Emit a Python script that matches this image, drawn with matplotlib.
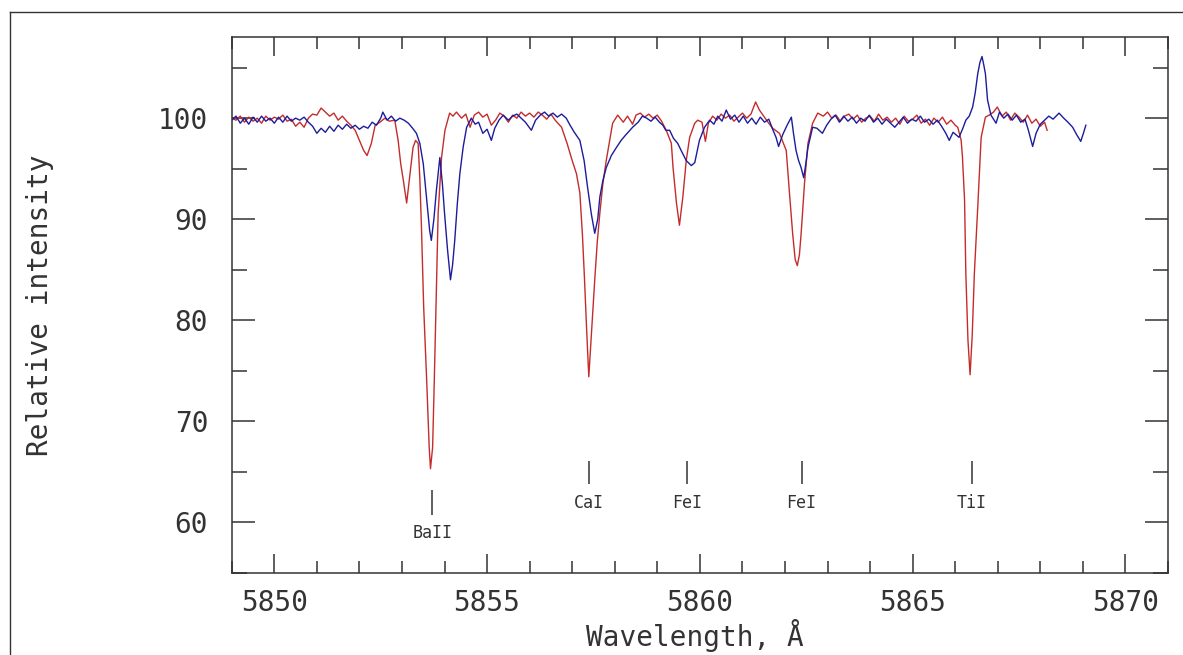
import numpy as np
import matplotlib
matplotlib.use("Agg")
import matplotlib.pyplot as plt
from matplotlib.lines import Line2D
from matplotlib.ticker import MultipleLocator

# red spectrum (wavelength in A, relative intensity)
red_wl = [5849.00, 5849.10, 5849.20, 5849.30, 5849.40, 5849.50, 5849.60, 5849.70, 5849.80, 5849.90,
          5850.00, 5850.10, 5850.20, 5850.30, 5850.40, 5850.50, 5850.60, 5850.70, 5850.80, 5850.90,
          5851.00, 5851.10, 5851.20, 5851.30, 5851.40, 5851.50, 5851.60, 5851.70, 5851.80, 5851.90,
          5852.00, 5852.10, 5852.18, 5852.28, 5852.37, 5852.48, 5852.60, 5852.70, 5852.83, 5852.91,
          5852.97, 5853.03, 5853.11, 5853.19, 5853.26, 5853.32, 5853.38, 5853.42, 5853.46, 5853.51,
          5853.58, 5853.64, 5853.67, 5853.72, 5853.76, 5853.80, 5853.85, 5853.93, 5854.01, 5854.12,
          5854.20, 5854.28, 5854.40, 5854.50, 5854.60, 5854.70, 5854.80, 5854.90, 5855.00, 5855.10,
          5855.20, 5855.30, 5855.40, 5855.50, 5855.60, 5855.70, 5855.80, 5855.90, 5856.00, 5856.10,
          5856.20, 5856.30, 5856.40, 5856.50, 5856.60, 5856.75, 5856.88, 5857.00, 5857.10, 5857.18,
          5857.24, 5857.29, 5857.34, 5857.39, 5857.45, 5857.53, 5857.59, 5857.65, 5857.72, 5857.80,
          5857.88, 5857.95, 5858.07, 5858.20, 5858.30, 5858.42, 5858.50, 5858.60, 5858.70, 5858.80,
          5858.90, 5859.00, 5859.10, 5859.21, 5859.33, 5859.37, 5859.45, 5859.52, 5859.60, 5859.68,
          5859.76, 5859.88, 5859.95, 5860.05, 5860.13, 5860.20, 5860.30, 5860.40, 5860.50, 5860.60,
          5860.70, 5860.80, 5860.90, 5861.00, 5861.10, 5861.20, 5861.31, 5861.40, 5861.50, 5861.60,
          5861.71, 5861.87, 5862.03, 5862.10, 5862.18, 5862.24, 5862.29, 5862.34, 5862.38, 5862.46,
          5862.54, 5862.65, 5862.77, 5862.90, 5863.00, 5863.10, 5863.20, 5863.30, 5863.40, 5863.50,
          5863.60, 5863.70, 5863.80, 5863.90, 5864.00, 5864.10, 5864.20, 5864.30, 5864.40, 5864.50,
          5864.60, 5864.70, 5864.80, 5864.90, 5865.00, 5865.10, 5865.20, 5865.30, 5865.40, 5865.50,
          5865.60, 5865.70, 5865.80, 5865.90, 5866.00, 5866.06, 5866.14, 5866.17, 5866.22, 5866.25,
          5866.30, 5866.35, 5866.40, 5866.45, 5866.53, 5866.61, 5866.71, 5866.80, 5866.90, 5866.99,
          5867.10, 5867.20, 5867.30, 5867.40, 5867.50, 5867.60, 5867.70, 5867.80, 5867.90, 5868.00,
          5868.10, 5868.16]
red_int = [100.0, 99.8, 100.2, 99.6, 100.1, 99.7, 100.0, 99.5, 100.2, 99.8,
           100.1, 99.9, 100.3, 99.7, 99.9, 99.2, 99.6, 99.1, 100.0, 100.4,
           100.3, 101.0, 100.6, 100.2, 100.5, 99.8, 100.2, 99.7, 99.3, 98.8,
           97.8, 96.8, 96.3, 97.5, 99.3, 99.6, 100.0, 99.7, 99.8, 97.8,
           95.5, 93.9, 91.6, 94.5, 97.1, 97.8, 97.5, 94.0, 88.9, 81.3,
           74.1, 67.4, 65.3, 67.4, 74.1, 81.3, 90.6, 96.1, 98.8, 100.5,
           100.2, 100.6, 100.0, 100.4, 99.1, 100.3, 100.6, 100.1, 100.4, 99.3,
           99.8, 100.5, 100.2, 99.6, 100.3, 100.0, 100.6, 100.2, 100.5, 100.1,
           100.6, 100.3, 99.9, 100.4, 99.8, 99.1, 97.5, 95.8, 94.5, 92.6,
           88.5, 84.0, 79.0, 74.4, 78.5, 84.0, 87.8, 90.6, 93.5, 95.8,
           97.8, 99.5, 100.3, 99.6, 100.2, 99.4, 100.3, 100.5, 100.1, 100.4,
           100.0, 100.3, 99.7, 98.8, 97.5, 95.1, 91.6, 89.4, 92.2, 95.8,
           98.1, 99.5, 99.8, 99.6, 97.7, 99.5, 100.2, 99.8, 100.4, 100.0,
           100.3, 99.7, 100.1, 100.5, 100.0, 100.4, 101.6, 100.8, 100.2, 99.6,
           99.0, 98.5, 96.8, 92.9, 88.6, 86.0, 85.4, 86.5, 88.6, 93.6,
           97.5, 99.5, 100.5, 100.2, 100.6, 100.0, 100.3, 99.7, 100.2, 100.4,
           99.9, 100.3, 99.6, 100.0, 100.2, 99.7, 100.4, 99.8, 100.1, 99.6,
           100.0, 99.4, 100.2, 99.7, 99.9, 100.3, 99.5, 99.9, 99.3, 100.0,
           99.6, 100.1, 99.4, 99.8, 99.3, 99.1, 97.8, 96.2, 91.9, 84.6,
           78.0, 74.6, 78.5, 84.6, 91.2, 98.1, 100.1, 100.3, 100.6, 101.1,
           100.2, 100.6, 99.8, 100.5, 100.1, 99.6, 100.3, 99.5, 99.9, 99.2,
           99.6, 98.8]

# blue spectrum
blue_wl = [5849.00, 5849.10, 5849.20, 5849.30, 5849.40, 5849.50, 5849.60, 5849.70, 5849.80, 5849.90,
           5850.00, 5850.10, 5850.20, 5850.30, 5850.40, 5850.50, 5850.60, 5850.70, 5850.80, 5850.90,
           5851.00, 5851.10, 5851.20, 5851.30, 5851.40, 5851.50, 5851.60, 5851.70, 5851.80, 5851.90,
           5852.00, 5852.10, 5852.20, 5852.30, 5852.40, 5852.50, 5852.55, 5852.65, 5852.75, 5852.85,
           5852.95, 5853.05, 5853.15, 5853.25, 5853.34, 5853.42, 5853.50, 5853.58, 5853.65, 5853.69,
           5853.75, 5853.81, 5853.89, 5853.95, 5854.00, 5854.07, 5854.14, 5854.19, 5854.24, 5854.30,
           5854.36, 5854.44, 5854.52, 5854.63, 5854.72, 5854.80, 5854.90, 5855.00, 5855.10, 5855.18,
           5855.28, 5855.38, 5855.50, 5855.60, 5855.70, 5855.80, 5855.90, 5856.04, 5856.14, 5856.25,
           5856.35, 5856.45, 5856.55, 5856.65, 5856.75, 5856.86, 5856.95, 5857.05, 5857.18, 5857.28,
           5857.36, 5857.45, 5857.53, 5857.60, 5857.65, 5857.72, 5857.80, 5857.92, 5858.04, 5858.15,
           5858.25, 5858.42, 5858.55, 5858.65, 5858.75, 5858.85, 5858.95, 5859.05, 5859.13, 5859.20,
           5859.29, 5859.38, 5859.48, 5859.56, 5859.68, 5859.80, 5859.88, 5859.99, 5860.11, 5860.23,
           5860.33, 5860.42, 5860.52, 5860.62, 5860.72, 5860.82, 5860.92, 5861.02, 5861.12, 5861.22,
           5861.32, 5861.42, 5861.52, 5861.62, 5861.72, 5861.79, 5861.85, 5861.95, 5862.05, 5862.15,
           5862.20, 5862.26, 5862.32, 5862.38, 5862.44, 5862.49, 5862.54, 5862.65, 5862.75, 5862.88,
           5862.98, 5863.08, 5863.18, 5863.28, 5863.38, 5863.48, 5863.58, 5863.68, 5863.78, 5863.88,
           5863.98, 5864.08, 5864.18, 5864.28, 5864.38, 5864.48, 5864.58, 5864.68, 5864.78, 5864.88,
           5864.98, 5865.08, 5865.18, 5865.28, 5865.38, 5865.48, 5865.58, 5865.68, 5865.78, 5865.86,
           5865.95, 5866.09, 5866.18, 5866.25, 5866.33, 5866.41, 5866.47, 5866.53, 5866.58, 5866.63,
           5866.67, 5866.71, 5866.76, 5866.84, 5866.96, 5867.04, 5867.14, 5867.24, 5867.34, 5867.44,
           5867.54, 5867.64, 5867.72, 5867.82, 5867.90, 5868.00, 5868.10, 5868.20, 5868.30, 5868.44,
           5868.55, 5868.65, 5868.76, 5868.85, 5868.95, 5869.02, 5869.07]
blue_int = [99.8, 100.2, 99.5, 100.0, 99.4, 100.1, 99.6, 100.2, 99.7, 100.0,
            99.5, 100.1, 99.6, 100.2, 99.7, 100.0, 99.8, 100.1, 99.6, 99.2,
            98.5, 99.0, 98.6, 99.2, 98.7, 99.3, 98.9, 99.4, 99.0, 99.3,
            98.9, 99.2, 99.0, 99.6, 99.3, 100.0, 100.6, 99.8, 100.2, 99.7,
            100.0, 99.8, 99.5, 99.0, 98.5, 97.5, 95.5, 92.0, 88.9, 87.9,
            90.0, 92.9, 96.1, 93.5, 90.6, 87.0, 84.0, 85.5, 87.9, 91.5,
            94.5, 97.2, 99.1, 100.0, 99.4, 99.6, 98.5, 98.9, 97.8, 99.0,
            99.8, 100.3, 99.8, 100.2, 100.4, 100.0, 99.6, 98.8, 99.8, 100.3,
            100.6, 100.2, 100.5, 100.1, 100.4, 100.0, 99.3, 98.6, 97.8, 95.8,
            93.2, 90.5, 88.6, 90.0, 92.2, 93.8, 95.1, 96.3, 97.1, 97.8,
            98.3, 99.1, 99.6, 100.2, 100.0, 99.7, 100.1, 99.6, 99.3, 98.8,
            98.8, 98.0, 97.5, 96.8, 95.8, 95.3, 95.6, 97.8, 99.1, 99.8,
            99.4, 100.2, 99.7, 100.8, 99.9, 100.3, 99.6, 100.2, 99.5, 100.0,
            99.4, 100.1, 99.6, 99.9, 98.8, 98.1, 97.2, 98.4, 99.3, 100.1,
            98.5, 96.8, 95.8, 95.1, 94.1, 95.5, 97.1, 99.1, 99.0, 98.5,
            99.3, 99.9, 100.3, 99.6, 100.2, 99.7, 100.1, 99.5, 100.0, 99.7,
            100.3, 99.6, 100.0, 99.4, 99.9, 99.5, 99.1, 99.6, 100.1, 99.5,
            99.9, 99.7, 100.2, 99.6, 99.9, 99.4, 99.8, 99.2, 98.5, 97.8,
            98.6, 98.1, 99.0, 99.8, 100.2, 101.1, 102.5, 104.4, 105.5, 106.1,
            105.3, 104.4, 101.8, 100.3, 99.5, 100.6, 100.0, 100.4, 99.8, 100.3,
            99.6, 99.9, 98.8, 97.2, 98.5, 99.4, 99.8, 100.2, 99.9, 100.5,
            100.0, 99.6, 99.1, 98.4, 97.7, 98.6, 99.3]

# line identifications
line_names = ["BaII", "CaI", "FeI", "FeI", "TiI"]
line_wl = [5853.71, 5857.39, 5859.70, 5862.39, 5866.39]
line_bottom = [60.7, 63.8, 63.8, 63.8, 63.8]
line_top = [63.2, 66.1, 66.1, 66.1, 66.1]
label_y = [58.9, 61.9, 61.9, 61.9, 61.9]

mono = "DejaVu Sans Mono"
ink = "#333333"

fig = plt.figure(figsize=(11.83, 6.55), dpi=100)
ax = fig.add_axes([0.1959, 0.1256, 0.7914, 0.8174])

ax.plot(red_wl, red_int, color="#c42c2c", lw=1.0)
ax.plot(blue_wl, blue_int, color="#1c1c9c", lw=1.0)

ax.vlines(line_wl, line_bottom, line_top, color=ink, lw=1.1)
for name, wl, ly in zip(line_names, line_wl, label_y):
    ax.text(wl, ly, name, ha="center", va="center", fontsize=12,
            family=mono, color=ink)

ax.set_xlim(5849, 5871)
ax.set_ylim(55, 108)
ax.xaxis.set_major_locator(MultipleLocator(5))
ax.xaxis.set_minor_locator(MultipleLocator(1))
ax.yaxis.set_major_locator(MultipleLocator(10))
ax.yaxis.set_minor_locator(MultipleLocator(5))

ax.tick_params(axis="x", which="both", direction="in", top=True, bottom=True,
               width=1.1, color=ink, labelsize=20, labelcolor=ink, pad=12)
ax.tick_params(axis="x", which="major", length=13.7)
ax.tick_params(axis="x", which="minor", length=8.6)
ax.tick_params(axis="y", which="both", direction="in", left=True, right=True,
               width=1.1, color=ink, labelsize=20, labelcolor=ink, pad=17)
ax.tick_params(axis="y", which="major", length=16.5)
ax.tick_params(axis="y", which="minor", length=10.8)
for lab in ax.get_xticklabels() + ax.get_yticklabels():
    lab.set_family(mono)

for sp in ax.spines.values():
    sp.set_linewidth(1.1)
    sp.set_color(ink)

ax.set_xlabel("Wavelength, Å", fontsize=20, family=mono, color=ink)
ax.set_ylabel("Relative intensity", fontsize=20, family=mono, color=ink)
ax.xaxis.set_label_coords(0.495, -0.086)
ax.yaxis.set_label_coords(-0.19, 0.5)

# outer frame (top and left edges visible)
fig.add_artist(Line2D([10 / 1183, 10 / 1183], [0, 1 - 12 / 655],
                      transform=fig.transFigure, color=ink, lw=1.0))
fig.add_artist(Line2D([10 / 1183, 1], [1 - 12 / 655, 1 - 12 / 655],
                      transform=fig.transFigure, color=ink, lw=1.0))

fig.savefig("out.png", dpi=100)
